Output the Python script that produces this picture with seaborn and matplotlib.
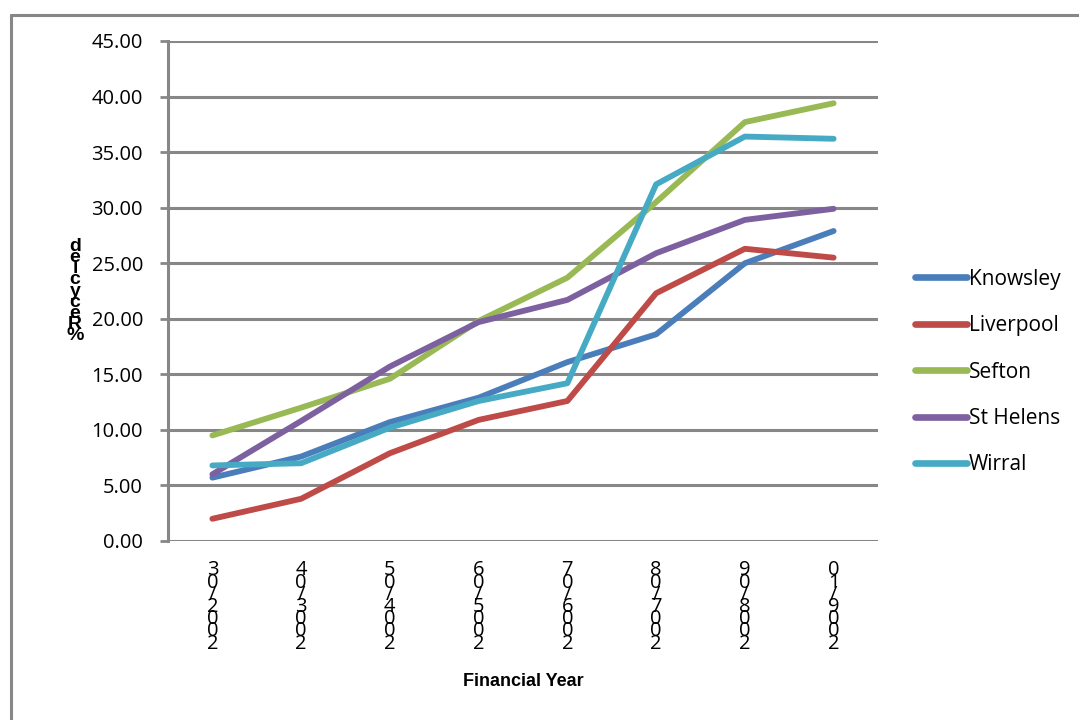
import matplotlib
matplotlib.use("Agg")
import matplotlib.pyplot as plt
from matplotlib.lines import Line2D
import seaborn as sns
import pandas as pd

# values (% recycled per financial year)
years = ["2002/03", "2003/04", "2004/05", "2005/06", "2006/07", "2007/08", "2008/09", "2009/10"]
knowsley = [5.7, 7.6, 10.7, 12.9, 16.1, 18.6, 25.0, 27.9]
liverpool = [2.0, 3.8, 7.9, 10.9, 12.6, 22.3, 26.3, 25.5]
sefton = [9.5, 12.0, 14.6, 19.8, 23.7, 30.5, 37.7, 39.4]
st_helens = [6.0, 10.8, 15.7, 19.7, 21.7, 25.9, 28.9, 29.9]
wirral = [6.8, 7.0, 10.2, 12.6, 14.2, 32.1, 36.4, 36.2]

councils = ["Knowsley", "Liverpool", "Sefton", "St Helens", "Wirral"]
colours = ["#4A7EBB", "#BE4B48", "#98B954", "#7D60A0", "#46AAC5"]

rows = []
for name, vals in zip(councils, [knowsley, liverpool, sefton, st_helens, wirral]):
    for i, v in enumerate(vals):
        rows.append({"pos": i, "Council": name, "Recycled": v})
df = pd.DataFrame(rows)

sns.set_style("white")
plt.rcParams["font.family"] = ["Open Sans", "DejaVu Sans"]
plt.rcParams["text.color"] = "black"

grey = "#878787"
fig = plt.figure(figsize=(10.79, 7.2), dpi=100)
ax = fig.add_axes([168 / 1079, 1 - 541 / 720, 710 / 1079, 500 / 720])

sns.lineplot(data=df, x="pos", y="Recycled", hue="Council", palette=colours,
             linewidth=4.2, ax=ax, solid_capstyle="round")

ax.set_xlim(-0.5, 7.5)
ax.set_ylim(0, 45)
ax.set_yticks(range(0, 50, 5))
ax.set_yticklabels([f"{t:.2f}" for t in range(0, 50, 5)], fontsize=14.5, color="black")
ax.set_xticks(range(len(years)))
# Excel-style stacked characters, read bottom to top
ax.set_xticklabels(["\n".join(reversed(y)) for y in years], fontsize=14.5,
                   linespacing=0.48, va="top", color="black")
ax.tick_params(axis="x", length=0, pad=14)
ax.tick_params(axis="y", length=6, width=2, color=grey, pad=12, direction="out", left=True)

ax.grid(axis="y", color=grey, linewidth=2.2)
ax.set_axisbelow(True)
for s in ["top", "right", "bottom"]:
    ax.spines[s].set_visible(False)
ax.spines["left"].set_color(grey)
ax.spines["left"].set_linewidth(2.2)

ax.set_xlabel("Financial Year", fontsize=13, fontweight="bold", labelpad=14,
              family="Liberation Sans", color="black")
ax.set_ylabel("\n".join(reversed("% Recycled".replace(" ", ""))), fontsize=14,
              fontweight="bold", family="Liberation Sans", rotation=0,
              linespacing=0.55, va="center", labelpad=12, color="black")

leg = ax.legend(loc="center left", bbox_to_anchor=(915 / 1079, 1 - 372 / 720),
                bbox_transform=fig.transFigure, frameon=False, fontsize=15,
                handlelength=2.5, handletextpad=0.1, labelspacing=1.22,
                borderpad=0, borderaxespad=0)
for h in leg.get_lines():
    h.set_linewidth(4.8)

# chart area border (partly cut off in the source)
fig.add_artist(Line2D([11 / 1079, 11 / 1079], [0, 1 - 15 / 720], color=grey, lw=2.2))
fig.add_artist(Line2D([11 / 1079, 1], [1 - 15 / 720, 1 - 15 / 720], color=grey, lw=2.2))

fig.savefig("out.png", dpi=100)
